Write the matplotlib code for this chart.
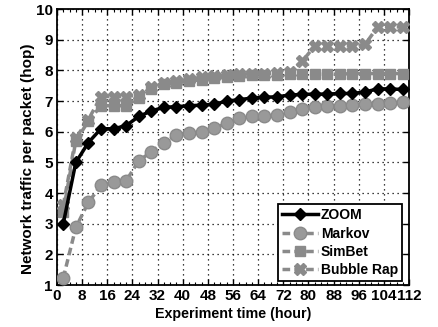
import matplotlib
matplotlib.use("Agg")
import matplotlib.pyplot as plt
from matplotlib.ticker import MultipleLocator

hours = [2, 6, 10, 14, 18, 22, 26, 30, 34, 38, 42, 46, 50, 54,
         58, 62, 66, 70, 74, 78, 82, 86, 90, 94, 98, 102, 106, 110]
zoom = [3.0, 5.0, 5.65, 6.1, 6.1, 6.2, 6.5, 6.68, 6.8, 6.82, 6.85, 6.87, 6.9, 7.0,
        7.05, 7.1, 7.13, 7.14, 7.2, 7.22, 7.23, 7.23, 7.25, 7.25, 7.3, 7.4, 7.4, 7.38]
markov = [1.23, 2.88, 3.7, 4.25, 4.35, 4.4, 5.05, 5.35, 5.64, 5.89, 5.95, 6.0, 6.12, 6.28,
          6.44, 6.51, 6.51, 6.54, 6.65, 6.76, 6.81, 6.84, 6.84, 6.87, 6.9, 6.92, 6.94, 6.97]
simbet = [3.4, 5.7, 6.35, 6.85, 6.85, 6.85, 7.1, 7.4, 7.55, 7.6, 7.65, 7.7, 7.75, 7.8,
          7.82, 7.84, 7.85, 7.86, 7.87, 7.88, 7.88, 7.88, 7.88, 7.9, 7.9, 7.9, 7.9, 7.9]
bubble = [3.6, 5.8, 6.4, 7.15, 7.15, 7.15, 7.2, 7.45, 7.6, 7.65, 7.72, 7.78, 7.82, 7.86,
          7.88, 7.9, 7.9, 7.92, 7.95, 8.3, 8.8, 8.8, 8.8, 8.8, 8.85, 9.42, 9.42, 9.42]

GRAY = "#8a8a8a"
plt.rcParams["font.family"] = ["Liberation Sans", "DejaVu Sans"]
plt.rcParams["font.weight"] = "bold"

fig = plt.figure(figsize=(4.38, 3.27), dpi=100)
ax = fig.add_axes([0.130, 0.128, 0.804, 0.844])

dash = (0, (2.2, 1.2))
ax.plot(hours, bubble, color=GRAY, lw=2.5, ls=dash, marker="X", ms=8,
        mfc=GRAY, mec=GRAY, label="Bubble Rap", zorder=3)
ax.plot(hours, simbet, color=GRAY, lw=2.5, ls=dash, marker="s", ms=7.5,
        mfc=GRAY, mec=GRAY, label="SimBet", zorder=4)
ax.plot(hours, markov, color=GRAY, lw=2.5, ls=dash, marker="o", ms=9,
        mfc="#999999", mec=GRAY, label="Markov", zorder=4)
ax.plot(hours, zoom, color="black", lw=2.5, marker="D", ms=6.5,
        mfc="black", mec="black", label="ZOOM", zorder=5)

ax.set_xlim(0, 112)
ax.set_ylim(1, 10)
ax.xaxis.set_major_locator(MultipleLocator(8))
ax.xaxis.set_minor_locator(MultipleLocator(2))
ax.yaxis.set_major_locator(MultipleLocator(1))
ax.tick_params(which="both", direction="in", top=True, right=True)
ax.tick_params(which="major", length=4, width=1, labelsize=11, pad=3)
ax.tick_params(which="minor", length=2, width=0.8)
for lab in ax.get_xticklabels() + ax.get_yticklabels():
    lab.set_fontweight("bold")
ax.grid(True, which="major", color="black", ls=(0, (1, 3)), lw=0.9)
for sp in ax.spines.values():
    sp.set_linewidth(1.3)

ax.set_xlabel("Experiment time (hour)", fontsize=10.3, fontweight="bold", labelpad=2.5)
ax.set_ylabel("Network traffic per packet (hop)", fontsize=11, fontweight="bold")
ax.yaxis.set_label_coords(-0.062, 0.457)

h, l = ax.get_legend_handles_labels()
order = [3, 2, 1, 0]
leg = ax.legend([h[i] for i in order], [l[i] for i in order], loc="lower right",
                bbox_to_anchor=(0.98, 0.015), fancybox=False, framealpha=1,
                edgecolor="black", prop={"weight": "bold", "size": 10},
                handlelength=2.6, handletextpad=0.2, labelspacing=0.3,
                borderpad=0.3, borderaxespad=0)
leg.get_frame().set_linewidth(1.3)

fig.savefig("out.png", dpi=100)
